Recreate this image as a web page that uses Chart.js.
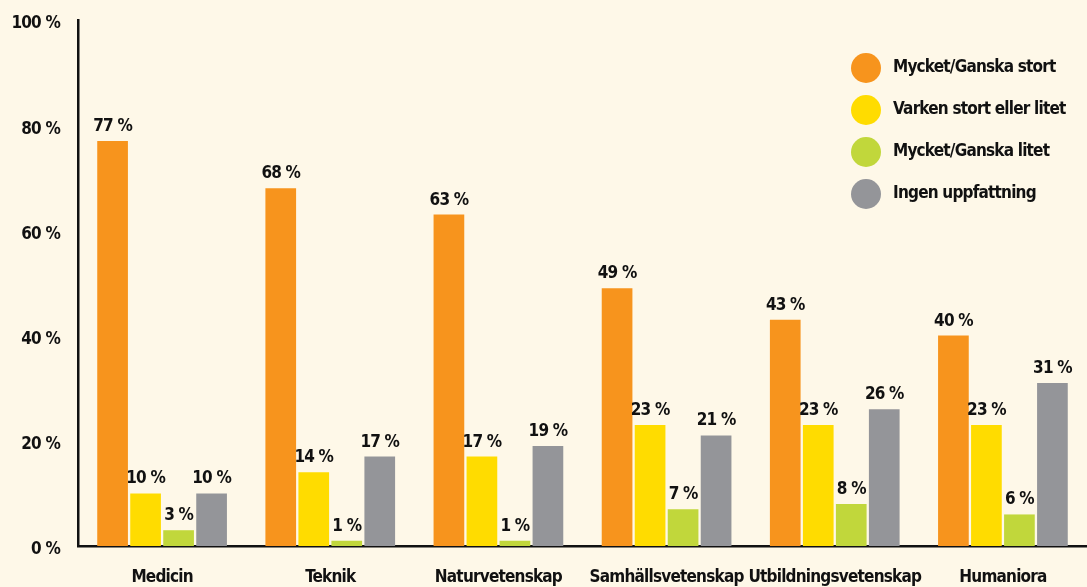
<!DOCTYPE html>
<html>
<head>
<meta charset="utf-8">
<script src="https://cdn.jsdelivr.net/npm/chart.js@4"></script>
<style>
  html, body { margin: 0; padding: 0; background: #fef8e8; overflow: hidden; }
  #wrap { width: 1087px; height: 587px; }
</style>
</head>
<body>
<div id="wrap"><canvas id="myChart"></canvas></div>
<script>
const categories = ['Medicin', 'Teknik', 'Naturvetenskap', 'Samhällsvetenskap', 'Utbildningsvetenskap', 'Humaniora'];
const seriesNames = ['Mycket/Ganska stort', 'Varken stort eller litet', 'Mycket/Ganska litet', 'Ingen uppfattning'];
const storts = [77, 68, 63, 49, 43, 40];
const varken = [10, 14, 17, 23, 23, 23];
const litet = [3, 1, 1, 7, 8, 6];
const ingen = [10, 17, 19, 21, 26, 31];
const yTicks = [0, 20, 40, 60, 80, 100];

const colors = ['#f7941d', '#ffdc00', '#c1d73b', '#949599'];
const fontFamily = '"Liberation Sans Narrow", "DejaVu Sans Condensed", sans-serif';
const fontSize = 17;

Chart.defaults.font.family = fontFamily;
Chart.defaults.font.weight = 'bold';
Chart.defaults.color = '#111';

// the original uses a condensed face, so pull the letters together a bit
const tightText = {
    id: 'tightText',
    beforeLayout(chart) { chart.ctx.letterSpacing = '-0.8px'; },
    beforeDraw(chart) { chart.ctx.letterSpacing = '-0.8px'; }
};

// labels above each bar
const barLabels = {
    id: 'barLabels',
    afterDatasetsDraw(chart) {
        const c = chart.ctx;
        c.save();
        c.font = 'bold ' + fontSize + 'px ' + fontFamily;
        c.fillStyle = '#111';
        c.textAlign = 'center';
        c.textBaseline = 'bottom';
        chart.data.datasets.forEach((ds, i) => {
            chart.getDatasetMeta(i).data.forEach((bar, j) => {
                c.fillText(ds.data[j] + ' %', bar.x, bar.y - 6);
            });
        });
        c.restore();
    }
};

// legend in the top right corner
const cornerLegend = {
    id: 'cornerLegend',
    afterDraw(chart) {
        const c = chart.ctx;
        c.save();
        c.font = 'bold ' + fontSize + 'px ' + fontFamily;
        c.textBaseline = 'middle';
        c.textAlign = 'left';
        chart.data.datasets.forEach((ds, i) => {
            const y = 68 + i * 42;
            c.fillStyle = ds.backgroundColor;
            c.beginPath();
            c.arc(866, y, 15, 0, Math.PI * 2);
            c.fill();
            c.fillStyle = '#111';
            c.fillText(ds.label, 893, y);
        });
        c.restore();
    }
};

new Chart(document.getElementById('myChart'), {
    type: 'bar',
    data: {
        labels: categories,
        datasets: [
            { label: seriesNames[0], data: storts, backgroundColor: colors[0] },
            { label: seriesNames[1], data: varken, backgroundColor: colors[1] },
            { label: seriesNames[2], data: litet, backgroundColor: colors[2] },
            { label: seriesNames[3], data: ingen, backgroundColor: colors[3] }
        ]
    },
    options: {
        responsive: true,
        maintainAspectRatio: false,
        animation: false,
        layout: { padding: { top: 20, right: -11, left: 0, bottom: 0 } },
        datasets: { bar: { categoryPercentage: 0.785, barPercentage: 0.93 } },
        plugins: {
            legend: { display: false },
            tooltip: { enabled: false }
        },
        scales: {
            x: {
                grid: { display: false, drawTicks: false },
                border: { display: true, color: '#111', width: 2.5 },
                ticks: { padding: 21, font: { size: fontSize, weight: 'bold' }, color: '#111', maxRotation: 0, autoSkip: false },
                afterFit(scale) { scale.height = 41; scale.paddingLeft = 0; scale.paddingRight = 0; }
            },
            y: {
                min: 0,
                max: 100,
                afterBuildTicks(scale) { scale.ticks = yTicks.map(v => ({ value: v })); },
                grid: { display: false, drawTicks: false },
                border: { display: true, color: '#111', width: 2.5 },
                ticks: {
                    padding: 18,
                    labelOffset: 4,
                    font: { size: fontSize, weight: 'bold' },
                    color: '#111',
                    callback: v => v + ' %'
                },
                afterFit(scale) { scale.width = 78; scale.paddingTop = 0; scale.paddingBottom = 0; }
            }
        }
    },
    plugins: [tightText, barLabels, cornerLegend]
});
</script>
</body>
</html>
